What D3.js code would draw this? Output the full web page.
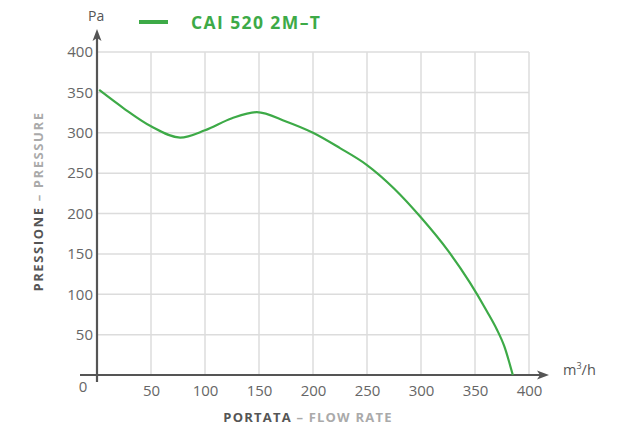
<!DOCTYPE html>
<html><head><meta charset="utf-8">
<script src="https://cdn.jsdelivr.net/npm/d3@7"></script>
<style>body{margin:0;background:#fff}svg{display:block}</style>
</head><body><svg id="c" width="626" height="427"></svg>
<script>
const seriesName = "CAI 520 2M\u2013T";
const flow =     [2, 25, 50, 77, 100, 125, 148, 175, 200, 225, 250, 275, 300, 325, 345, 361, 370, 377, 385];
const pressure = [353, 330, 308, 294, 303, 318, 325.5, 314, 300, 281, 260, 231, 195, 154, 115, 79, 57, 36, 0];
const xTicks = [50, 100, 150, 200, 250, 300, 350, 400];
const yTicks = [50, 100, 150, 200, 250, 300, 350, 400];

const svg = d3.select("#c");
const font = "'Open Sans', sans-serif";
const green = "#3daa47", axisCol = "#555", gridCol = "#dcdcdc", tickCol = "#666";

const x = d3.scaleLinear().domain([0, 400]).range([97, 529]);
const y = d3.scaleLinear().domain([0, 400]).range([375, 52]);

// grid
svg.append("g").selectAll("line").data(xTicks).join("line")
  .attr("x1", d => x(d)).attr("x2", d => x(d)).attr("y1", y(400)).attr("y2", y(0))
  .attr("stroke", gridCol).attr("stroke-width", 1.5);
svg.append("g").selectAll("line").data(yTicks).join("line")
  .attr("x1", x(0)).attr("x2", x(400)).attr("y1", d => y(d)).attr("y2", d => y(d))
  .attr("stroke", gridCol).attr("stroke-width", 1.5);

// axes
const xAxis = d3.axisBottom(x).tickValues(xTicks).tickSize(0).tickPadding(10);
const gx = svg.append("g").attr("transform", `translate(0,${y(0)})`).call(xAxis);
gx.select(".domain").remove();
gx.selectAll("text").attr("font-family", font).attr("font-size", 15).attr("fill", tickCol);
const yAxis = d3.axisLeft(y).tickValues(yTicks).tickSize(0).tickPadding(4);
const gy = svg.append("g").attr("transform", `translate(${x(0)},0)`).call(yAxis);
gy.select(".domain").remove();
gy.selectAll("text").attr("font-family", font).attr("font-size", 15).attr("fill", tickCol);
svg.append("text").attr("x", 83).attr("y", 392).attr("text-anchor", "middle")
  .attr("font-family", font).attr("font-size", 15).attr("fill", tickCol).text("0");

// axis lines with arrows
svg.append("line").attr("x1", 80).attr("x2", 542).attr("y1", y(0)).attr("y2", y(0))
  .attr("stroke", axisCol).attr("stroke-width", 2.2);
svg.append("path").attr("d", `M549,${y(0)} L537,${y(0)-4.5} L540,${y(0)} L537,${y(0)+4.5} Z`).attr("fill", axisCol);
svg.append("line").attr("x1", x(0)).attr("x2", x(0)).attr("y1", 36).attr("y2", 382)
  .attr("stroke", axisCol).attr("stroke-width", 2.2);
svg.append("path").attr("d", `M${x(0)},29 L${x(0)-4.5},41 L${x(0)},38 L${x(0)+4.5},41 Z`).attr("fill", axisCol);

// unit labels
svg.append("text").attr("x", 88).attr("y", 21).attr("font-family", font).attr("font-size", 14).attr("fill", "#555").text("Pa");
const mt = svg.append("text").attr("x", 563).attr("y", 375).attr("font-family", font).attr("font-size", 14.5).attr("fill", "#555");
mt.append("tspan").text("m");
mt.append("tspan").attr("font-size", 9).attr("dy", -6).text("3");
mt.append("tspan").attr("dy", 6).text("/h");

// curve
const line = d3.line().x((d, i) => x(flow[i])).y(d => y(d)).curve(d3.curveMonotoneX);
svg.append("path").attr("d", line(pressure)).attr("fill", "none").attr("stroke", green).attr("stroke-width", 2.2);

// legend
svg.append("line").attr("x1", 139).attr("x2", 168).attr("y1", 22).attr("y2", 22).attr("stroke", green).attr("stroke-width", 4);
svg.append("text").attr("x", 191).attr("y", 29).attr("font-family", font).attr("font-weight", 700)
  .attr("font-size", 17.5).attr("letter-spacing", "1.4px").attr("fill", green).text(seriesName);

// axis titles
const xt = svg.append("text").attr("x", 308).attr("y", 421.5).attr("text-anchor", "middle")
  .attr("font-family", font).attr("font-weight", 700).attr("font-size", 13).attr("letter-spacing", "1.2px");
xt.append("tspan").attr("fill", "#555").text("PORTATA ");
xt.append("tspan").attr("fill", "#aaa").text("\u2013 FLOW RATE");
const yt = svg.append("text").attr("transform", "translate(43,201.5) rotate(-90)").attr("text-anchor", "middle")
  .attr("font-family", font).attr("font-weight", 700).attr("font-size", 13).attr("letter-spacing", "1.6px");
yt.append("tspan").attr("fill", "#555").text("PRESSIONE ");
yt.append("tspan").attr("fill", "#aaa").text("\u2013 PRESSURE");
</script></body></html>
